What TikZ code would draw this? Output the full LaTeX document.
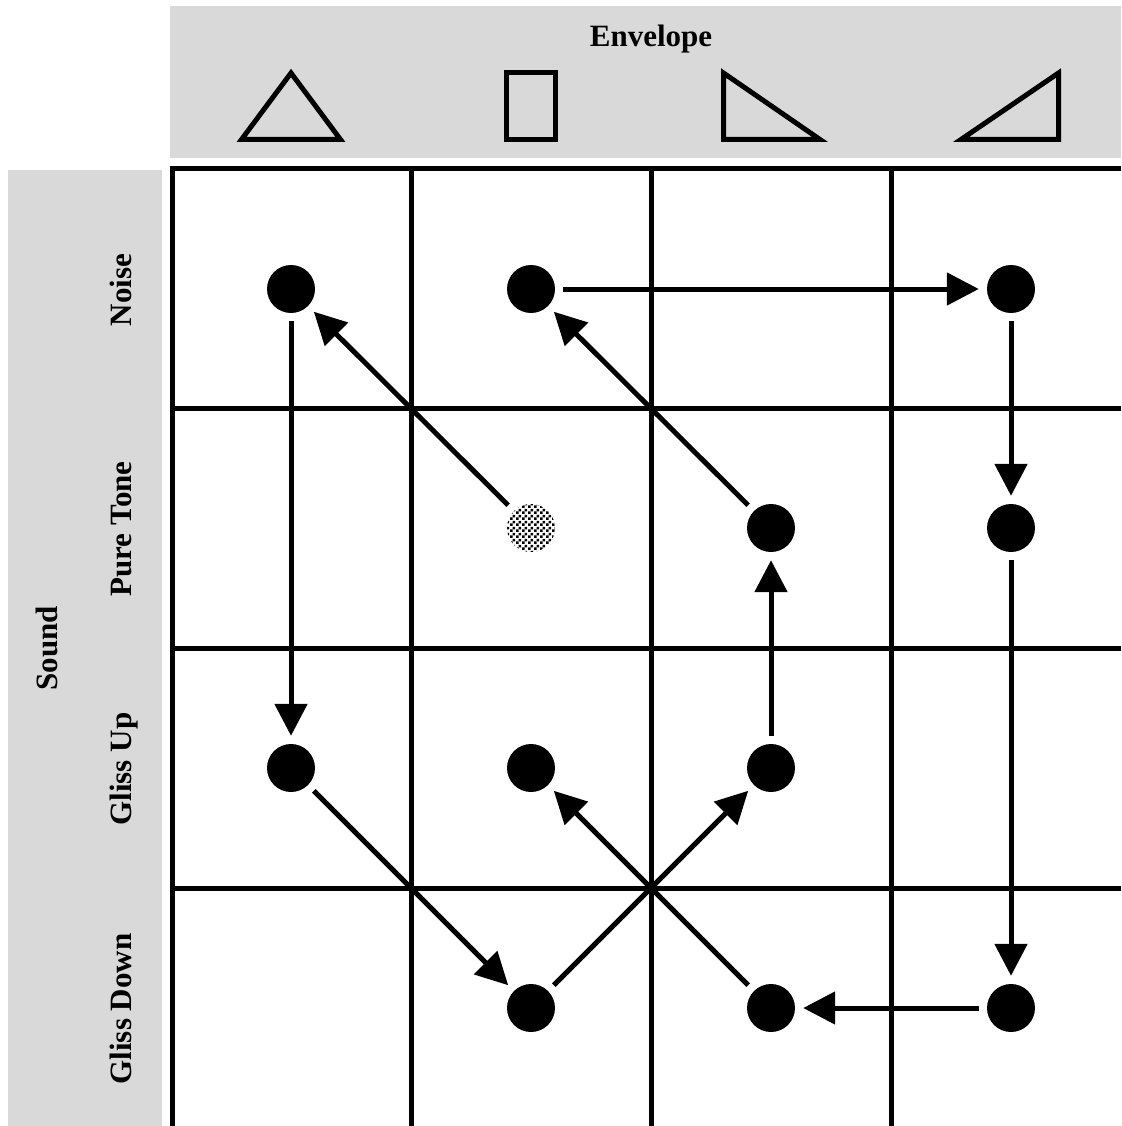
\documentclass[tikz,border=0pt]{standalone}
\usepackage{fontspec}
\setmainfont{Liberation Serif}
\usetikzlibrary{arrows.meta,patterns.meta}
\tikzdeclarepattern{
  name=finecheck,
  type=uncolored,
  bounding box={(0pt,0pt) and (6pt,6pt)},
  tile size={(6pt,6pt)},
  code={\fill (0pt,0pt) rectangle (3pt,3pt); \fill (3pt,3pt) rectangle (6pt,6pt);}
}
\begin{document}
\begin{tikzpicture}[x=1pt,y=-1pt,
  gridline/.style={line width=5pt},
  dot/.style={circle,fill=black,minimum size=48pt,inner sep=0pt},
  checkdot/.style={circle,pattern=finecheck,pattern color=black,minimum size=48pt,inner sep=0pt},
  flow/.style={line width=5pt,-{Triangle[length=32pt,width=32pt]},shorten <=8pt,shorten >=8pt},
  envshape/.style={line width=5pt,line join=miter},
  lab/.style={font=\fontsize{31}{36}\selectfont\bfseries},
  panel/.style={fill=black!15}]
\useasboundingbox (0,0) rectangle (1121,1126);
% header panels
\fill[panel] (170,6) rectangle (1121,158);
\fill[panel] (8,170) rectangle (162,1126);
% titles
\node[lab,anchor=base] (envelope) at (651,47) {Envelope};
\node[lab,anchor=base,rotate=90] (sound) at (57,648) {Sound};
\node[lab,anchor=base,rotate=90] (noise) at (131,290) {Noise};
\node[lab,anchor=base,rotate=90] (pure) at (131,529) {Pure Tone};
\node[lab,anchor=base,rotate=90] (glup) at (131,769) {Gliss Up};
\node[lab,anchor=base,rotate=90] (gldown) at (131,1009) {Gliss Down};
% envelope shapes
\draw[envshape] (291,73) -- (340.5,139.5) -- (241.5,139.5) -- cycle;
\draw[envshape] (506.5,72.5) rectangle (555.5,139.5);
\draw[envshape] (723.5,73) -- (820,139.5) -- (723.5,139.5) -- cycle;
\draw[envshape] (1058.5,73) -- (1058.5,139.5) -- (961,139.5) -- cycle;
% grid
\foreach \gx in {172,411,651,891} \draw[gridline] (\gx,169) -- (\gx,1126);
\draw[gridline] (169.5,169) -- (1121,169);
\foreach \gy in {408,648,888} \draw[gridline] (172,\gy) -- (1121,\gy);
% dots
\node[dot] (p11) at (291,289) {};
\node[dot] (p12) at (531,289) {};
\node[dot] (p14) at (1011,289) {};
\node[checkdot] (p22) at (531,528) {};
\node[dot] (p23) at (771,528) {};
\node[dot] (p24) at (1011,528) {};
\node[dot] (p31) at (291,768) {};
\node[dot] (p32) at (531,768) {};
\node[dot] (p33) at (771,768) {};
\node[dot] (p42) at (531,1008) {};
\node[dot] (p43) at (771,1008) {};
\node[dot] (p44) at (1011,1008) {};
% arrows
\draw[flow] (p22) -- (p11);
\draw[flow] (p11) -- (p31);
\draw[flow] (p31) -- (p42);
\draw[flow] (p42) -- (p33);
\draw[flow] (p33) -- (p23);
\draw[flow] (p23) -- (p12);
\draw[flow] (p12) -- (p14);
\draw[flow] (p14) -- (p24);
\draw[flow] (p24) -- (p44);
\draw[flow] (p44) -- (p43);
\draw[flow] (p43) -- (p32);
\end{tikzpicture}
\end{document}
